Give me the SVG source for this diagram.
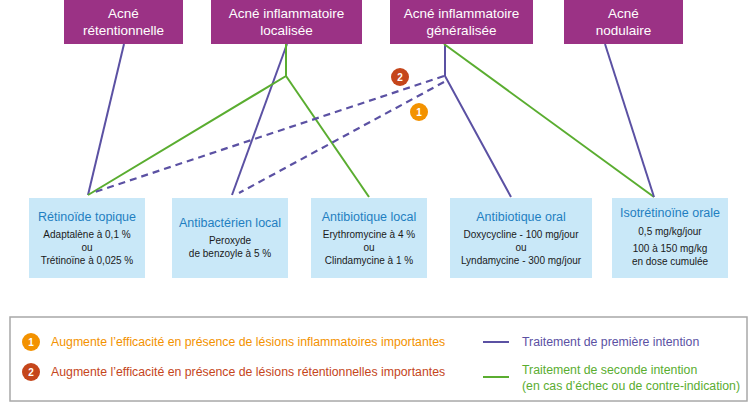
<svg xmlns="http://www.w3.org/2000/svg" width="753" height="410" viewBox="0 0 753 410">
<style>
.top{fill:#9b3285}
.tt{fill:#fff;font-family:"Liberation Sans",sans-serif;font-size:13.5px;text-anchor:middle}
.bx{fill:#c9e8f8}
.bt{fill:#1f7fc1;font-family:"Liberation Sans",sans-serif;font-size:12.5px;text-anchor:middle}
.bb{fill:#1a1a1a;font-family:"Liberation Sans",sans-serif;font-size:10px;text-anchor:middle}
.b{stroke:#5b51a3;stroke-width:2;fill:none}
.g{stroke:#5aad30;stroke-width:2;fill:none}
.d{stroke:#5b51a3;stroke-width:2.2;fill:none;stroke-dasharray:7,5}
.lt{font-family:"Liberation Sans",sans-serif;font-size:12.3px}
.num{fill:#fff;font-family:"Liberation Sans",sans-serif;font-size:10px;font-weight:bold;text-anchor:middle}
</style>
<rect width="753" height="410" fill="#fff"/>
<g id="connectors">
<line class="b" x1="124" y1="44" x2="88" y2="195"/>
<line class="b" x1="287" y1="44" x2="232" y2="195"/>
<polyline class="g" points="286,44 286,76 88,195"/>
<line class="g" x1="286" y1="76" x2="369" y2="197"/>
<polyline class="b" points="445,44 445,76 511,197"/>
<line class="d" x1="444" y1="76" x2="92" y2="193"/>
<line class="d" x1="444" y1="82" x2="239" y2="193"/>
<line class="g" x1="444" y1="44" x2="654" y2="197"/>
<line class="b" x1="605" y1="44" x2="654" y2="197"/>
</g>
<g id="badge2"><circle cx="400" cy="77" r="9" fill="#c5461b"/><text class="num" x="400" y="81">2</text></g>
<g id="badge1"><circle cx="419" cy="112" r="9" fill="#f39200"/><text class="num" x="419" y="116">1</text></g>
<g id="n1"><rect class="top" x="64" y="0" width="119" height="44"/><text class="tt" x="123.5" y="18">Acné</text><text class="tt" x="123.5" y="35">rétentionnelle</text></g>
<g id="n2"><rect class="top" x="211" y="0" width="151" height="44"/><text class="tt" x="286.5" y="18">Acné inflammatoire</text><text class="tt" x="286.5" y="35">localisée</text></g>
<g id="n3"><rect class="top" x="390" y="0" width="143" height="44"/><text class="tt" x="461.5" y="18">Acné inflammatoire</text><text class="tt" x="461.5" y="35">généralisée</text></g>
<g id="n4"><rect class="top" x="564" y="0" width="119" height="44"/><text class="tt" x="623.5" y="18">Acné</text><text class="tt" x="623.5" y="35">nodulaire</text></g>
<g id="b1"><rect class="bx" x="29" y="198" width="116" height="80"/><text class="bt" x="87" y="221">Rétinoïde topique</text><text class="bb" x="87" y="238">Adaptalène à 0,1 %</text><text class="bb" x="87" y="251">ou</text><text class="bb" x="87" y="264">Trétinoïne à 0,025 %</text></g>
<g id="b2"><rect class="bx" x="172" y="198" width="116" height="80"/><text class="bt" x="230" y="227">Antibactérien local</text><text class="bb" x="230" y="244">Peroxyde</text><text class="bb" x="230" y="257">de benzoyle à 5 %</text></g>
<g id="b3"><rect class="bx" x="311" y="198" width="116" height="80"/><text class="bt" x="369" y="221">Antibiotique local</text><text class="bb" x="369" y="238">Erythromycine à 4 %</text><text class="bb" x="369" y="251">ou</text><text class="bb" x="369" y="264">Clindamycine à 1 %</text></g>
<g id="b4"><rect class="bx" x="450" y="198" width="142" height="80"/><text class="bt" x="521" y="221">Antibiotique oral</text><text class="bb" x="521" y="238">Doxycycline - 100 mg/jour</text><text class="bb" x="521" y="251">ou</text><text class="bb" x="521" y="264">Lyndamycine - 300 mg/jour</text></g>
<g id="b5"><rect class="bx" x="612" y="198" width="116" height="80"/><text class="bt" x="670" y="217">Isotrétinoïne orale</text><text class="bb" x="670" y="235">0,5 mg/kg/jour</text><text class="bb" x="670" y="252">100 à 150 mg/kg</text><text class="bb" x="670" y="265">en dose cumulée</text></g>
<g id="legend">
<rect x="10" y="317" width="737" height="84" fill="#fff" stroke="#a8a8a8" stroke-width="1.5"/>
<circle cx="31" cy="342" r="9" fill="#f39200"/><text class="num" x="31" y="346">1</text>
<text class="lt" x="51" y="346" fill="#f39200">Augmente l’efficacité en présence de lésions inflammatoires importantes</text>
<circle cx="31" cy="372" r="9" fill="#c5461b"/><text class="num" x="31" y="376">2</text>
<text class="lt" x="51" y="376" fill="#c5461b">Augmente l’efficacité en présence de lésions rétentionnelles importantes</text>
<line class="b" x1="483" y1="342" x2="509" y2="342"/>
<text class="lt" x="522" y="346" fill="#5b51a3">Traitement de première intention</text>
<line class="g" x1="483" y1="377" x2="509" y2="377"/>
<text class="lt" x="522" y="374" fill="#5aad30">Traitement de seconde intention</text>
<text class="lt" x="522" y="390" fill="#5aad30">(en cas d’échec ou de contre-indication)</text>
</g>
</svg>
